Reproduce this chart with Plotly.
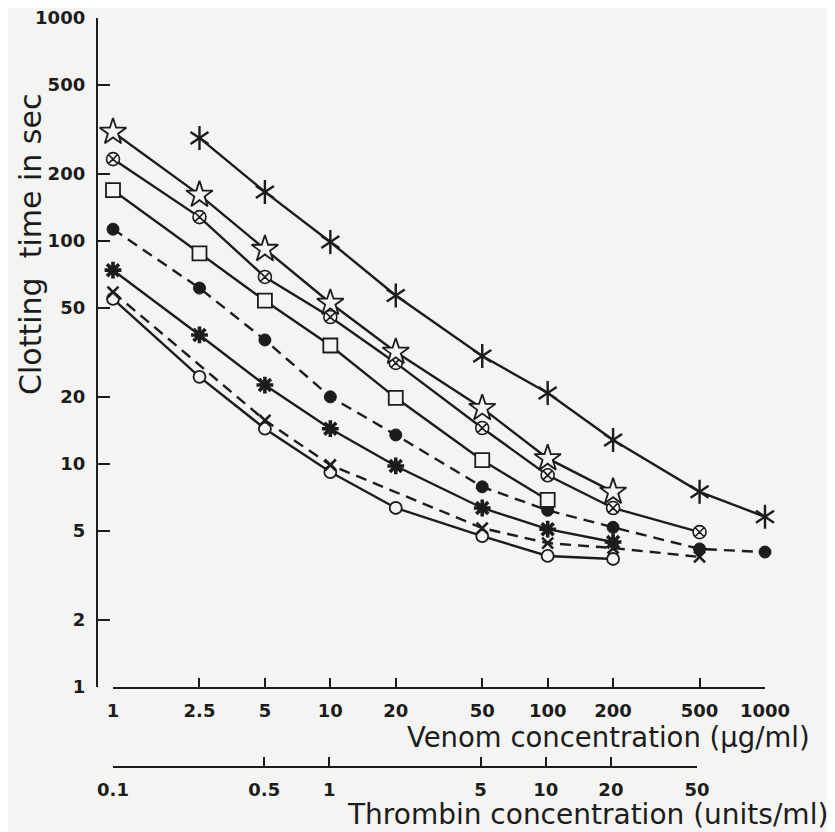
import math
import plotly.graph_objects as go

# ---------------- data ----------------
venom_ticks = [1, 2.5, 5, 10, 20, 50, 100, 200, 500, 1000]
venom_labels = ["1", "2.5", "5", "10", "20", "50", "100", "200", "500", "1000"]
thrombin_ticks = [0.1, 0.5, 1, 5, 10, 20, 50]
thrombin_labels = ["0.1", "0.5", "1", "5", "10", "20", "50"]
time_ticks = [1, 2, 5, 10, 20, 50, 100, 200, 500, 1000]
time_labels = ["1", "2", "5", "10", "20", "50", "100", "200", "500", "1000"]

asterisk_x = [2.5, 5, 10, 20, 50, 100, 200, 500, 1000]
asterisk_y = [290, 166, 99, 57, 30.5, 20.8, 12.8, 7.5, 5.8]

star_x = [1, 2.5, 5, 10, 20, 50, 100, 200]
star_y = [308, 161, 92, 52.7, 31.8, 17.8, 10.6, 7.5]

otimes_x = [1, 2.5, 5, 10, 20, 50, 100, 200, 500]
otimes_y = [233, 128, 69, 45.6, 28.4, 14.5, 8.9, 6.35, 4.95]

square_x = [1, 2.5, 5, 10, 20, 50, 100]
square_y = [169, 88, 54, 34, 19.8, 10.4, 6.9]

dot_x = [1, 2.5, 5, 10, 20, 50, 100, 200, 500, 1000]
dot_y = [113, 61.5, 36, 20, 13.5, 7.9, 6.2, 5.2, 4.16, 4.03]

burst_x = [1, 2.5, 5, 10, 20, 50, 100, 200]
burst_y = [74, 37.9, 22.6, 14.4, 9.8, 6.35, 5.1, 4.47]

cross_x = [1, 5, 10, 50, 100, 200, 500]
cross_y = [59, 15.7, 9.9, 5.16, 4.42, 4.2, 3.83]

ring_x = [1, 2.5, 5, 10, 20, 50, 100, 200]
ring_y = [55, 24.6, 14.4, 9.2, 6.35, 4.75, 3.87, 3.75]

# ---------------- styling ----------------
OFF = 8                      # browser body margin
W, H = 835 - OFF, 832 - OFF
BG = "#f4f4f2"
INK = "#1c1c1c"
LW = 2.4

def px(x):
    return (x - OFF) / W

def py(y):
    return 1 - (y - OFF) / H

fig = go.Figure()

def add(xs, ys, symbol, size, fill, lw_marker, dash="solid", name=""):
    fig.add_trace(go.Scatter(
        x=xs, y=ys, mode="lines+markers", name=name,
        line=dict(color=INK, width=LW, dash=dash),
        marker=dict(symbol=symbol, size=size, color=fill,
                    line=dict(color=INK, width=lw_marker)),
        cliponaxis=False, showlegend=False, hoverinfo="x+y"))

def add_markers(xs, ys, symbol, size, fill, lw_marker):
    fig.add_trace(go.Scatter(
        x=xs, y=ys, mode="markers",
        marker=dict(symbol=symbol, size=size, color=fill,
                    line=dict(color=INK, width=lw_marker)),
        cliponaxis=False, showlegend=False, hoverinfo="skip"))

dash_pat = "11px,7px"

# invisible trace to register thrombin axis (added first so it sits below)
fig.add_trace(go.Scatter(x=[0.1, 50], y=[1, 1], xaxis="x2", yaxis="y",
                         mode="markers", marker=dict(opacity=0),
                         showlegend=False, hoverinfo="skip"))

add(ring_x, ring_y, "circle", 12, BG, 1.8, name="open circle")
add(cross_x, cross_y, "x-thin-open", 11, INK, 2.6, dash=dash_pat, name="cross")
add(burst_x, burst_y, "asterisk-open", 14, INK, 3.6, name="burst")
add(dot_x, dot_y, "circle", 12, INK, 1, dash=dash_pat, name="dot")
add(square_x, square_y, "square", 14, BG, 1.8, name="square")
add(otimes_x, otimes_y, "circle-x", 13, BG, 1.6, name="otimes")
add(star_x, star_y, "star", 20, BG, 1.8, name="star")
# six-armed asterisk = y-up + y-down
add(asterisk_x, asterisk_y, "y-up-open", 15, INK, 2.4, name="asterisk")
add_markers(asterisk_x, asterisk_y, "y-down-open", 15, INK, 2.4)

tickfont = dict(family="DejaVu Sans", size=18, color=INK, weight="bold")

common = dict(showline=True, linewidth=LW, linecolor=INK,
              ticks="inside", tickwidth=LW, tickcolor=INK,
              tickfont=tickfont, showgrid=False, zeroline=False,
              automargin=False, ticklabeloverflow="allow")

fig.update_layout(
    width=W, height=H,
    margin=dict(l=0, r=0, t=0, b=0, autoexpand=False),
    paper_bgcolor=BG, plot_bgcolor="rgba(0,0,0,0)",
    xaxis=dict(type="log", range=[0, 3], domain=[px(113), px(765)],
               anchor="free", position=py(688), ticklen=9,
               tickvals=venom_ticks, ticktext=venom_labels,
               ticklabelstandoff=6, **common),
    xaxis2=dict(type="log", range=[-1, math.log10(50)],
                domain=[px(113), px(697)],
                anchor="free", position=py(767), ticklen=9,
                tickvals=thrombin_ticks, ticktext=thrombin_labels,
                ticklabelstandoff=6, **common),
    yaxis=dict(type="log", range=[0, 3], domain=[py(687), py(18)],
               anchor="free", position=px(97), ticklen=12,
               tickvals=time_ticks, ticktext=time_labels,
               ticklabelstandoff=7, **common),
)

fig.add_annotation(text="Venom concentration (µg/ml)", x=px(812), y=py(737),
                   xref="paper", yref="paper", xanchor="right", yanchor="middle",
                   showarrow=False,
                   font=dict(family="DejaVu Sans", size=27.5, color=INK))
fig.add_annotation(text="Thrombin concentration (units/ml)", x=px(830), y=py(814),
                   xref="paper", yref="paper", xanchor="right", yanchor="middle",
                   showarrow=False,
                   font=dict(family="DejaVu Sans", size=28, color=INK))
fig.add_annotation(text="Clotting  time in sec", x=px(30), y=py(245),
                   xref="paper", yref="paper", xanchor="center", yanchor="middle",
                   textangle=-90, showarrow=False,
                   font=dict(family="DejaVu Sans", size=30, color=INK))

fig.write_html("out.html")
